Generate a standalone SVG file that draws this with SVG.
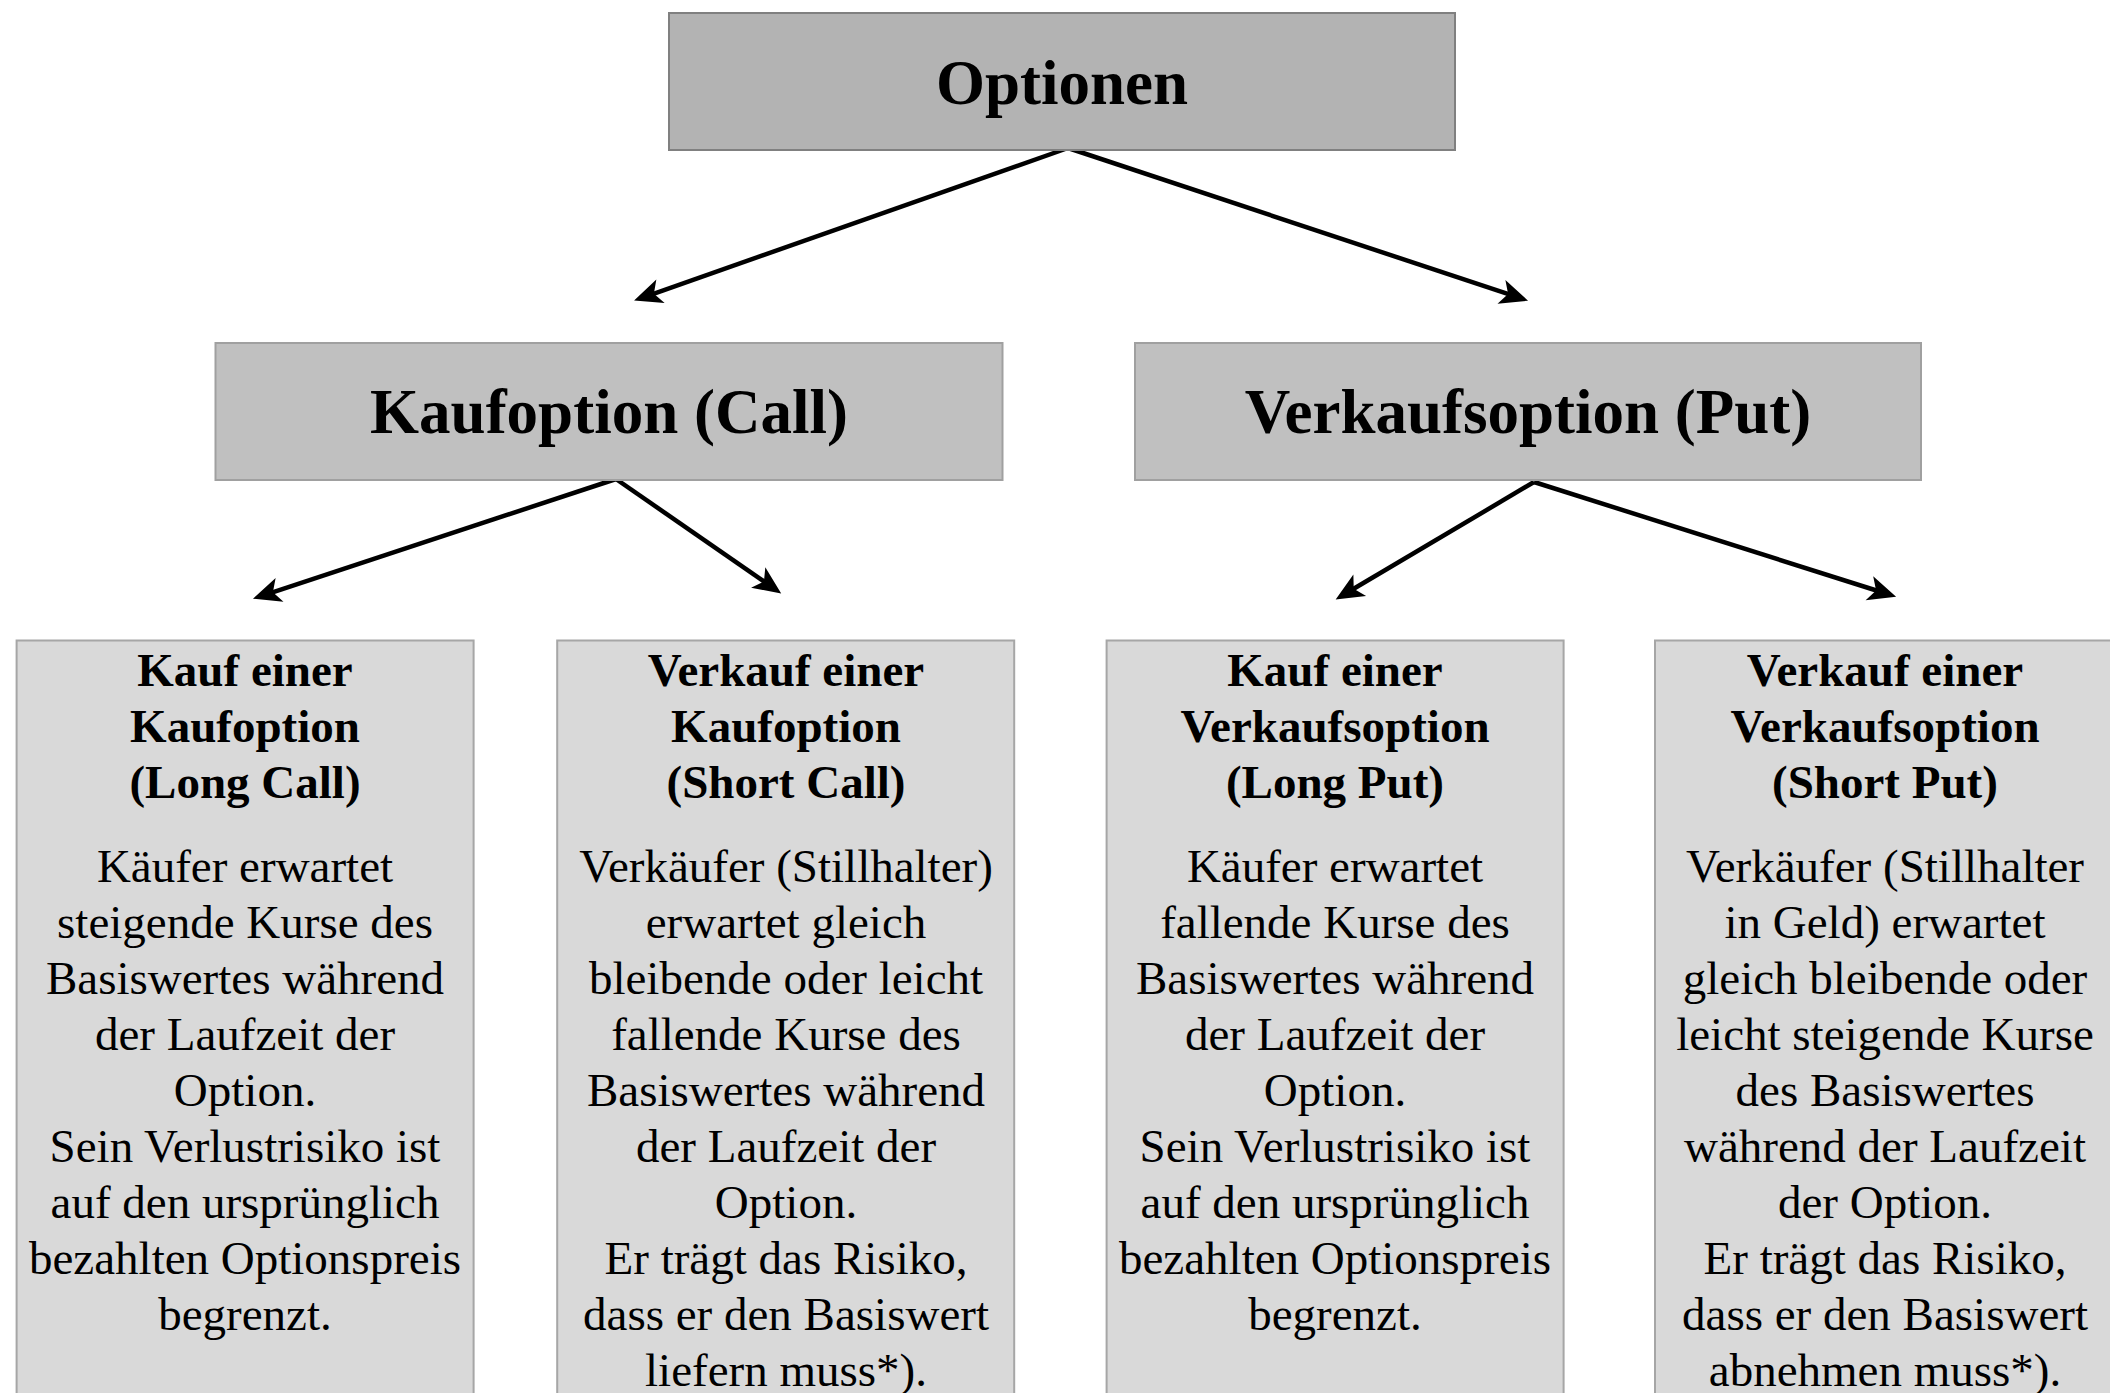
<svg xmlns="http://www.w3.org/2000/svg" width="2110" height="1393" viewBox="0 0 2110 1393">
<style>
.t{font-family:"Liberation Serif","Times New Roman",serif;fill:#000;text-anchor:middle}
.h1{font-size:63px;font-weight:bold}
.h3{font-size:47px;font-weight:bold}
.b{font-size:47px}
.top{fill:#b3b3b3;stroke:#808080;stroke-width:2}
.mid{fill:#c0c0c0;stroke:#a0a0a0;stroke-width:2}
.bot{fill:#d9d9d9;stroke:#a6a6a6;stroke-width:2}
.c{stroke:#000;stroke-width:4.5;fill:none;marker-end:url(#ah)}
</style>
<defs>
<marker id="ah" markerUnits="userSpaceOnUse" markerWidth="32" markerHeight="28" viewBox="0 -14 32 28" refX="10" refY="0" orient="auto">
<path d="M29,0 L1,-12.5 L8,0 L1,12.5 Z" fill="#000"/>
</marker>
</defs>
<rect width="2110" height="1393" fill="#fff"/>
<g id="connectors">
<line class="c" x1="1068" y1="148" x2="652" y2="294.3"/>
<line class="c" x1="1068" y1="148" x2="1510" y2="294.7"/>
<line class="c" x1="616" y1="479" x2="271" y2="592.8"/>
<line class="c" x1="616" y1="479" x2="765.6" y2="582.6"/>
<line class="c" x1="1534" y1="482" x2="1352" y2="589.8"/>
<line class="c" x1="1534" y1="482" x2="1878" y2="591"/>
</g>
<g id="optionen">
<rect class="top" x="669" y="13" width="786" height="137"/>
<text class="t h1" x="1062" y="104">Optionen</text>
</g>
<g id="kaufoption">
<rect class="mid" x="215.5" y="343" width="787" height="137"/>
<text class="t h1" x="609" y="433">Kaufoption (Call)</text>
</g>
<g id="verkaufsoption">
<rect class="mid" x="1135" y="343" width="786" height="137"/>
<text class="t h1" x="1528" y="433">Verkaufsoption (Put)</text>
</g>
<g id="long-call">
<rect class="bot" x="16.6" y="640.5" width="457" height="800"/>
<text class="t h3" x="245"><tspan x="245" y="686">Kauf einer</tspan><tspan x="245" y="742">Kaufoption</tspan><tspan x="245" y="798">(Long Call)</tspan></text>
<text class="t b" x="245"><tspan x="245" y="882">Käufer erwartet</tspan><tspan x="245" y="938">steigende Kurse des</tspan><tspan x="245" y="994">Basiswertes während</tspan><tspan x="245" y="1050">der Laufzeit der</tspan><tspan x="245" y="1106">Option.</tspan><tspan x="245" y="1162">Sein Verlustrisiko ist</tspan><tspan x="245" y="1218">auf den ursprünglich</tspan><tspan x="245" y="1274">bezahlten Optionspreis</tspan><tspan x="245" y="1330">begrenzt.</tspan></text>
</g>
<g id="short-call">
<rect class="bot" x="557.2" y="640.5" width="457" height="800"/>
<text class="t h3" x="786"><tspan x="786" y="686">Verkauf einer</tspan><tspan x="786" y="742">Kaufoption</tspan><tspan x="786" y="798">(Short Call)</tspan></text>
<text class="t b" x="786"><tspan x="786" y="882">Verkäufer (Stillhalter)</tspan><tspan x="786" y="938">erwartet gleich</tspan><tspan x="786" y="994">bleibende oder leicht</tspan><tspan x="786" y="1050">fallende Kurse des</tspan><tspan x="786" y="1106">Basiswertes während</tspan><tspan x="786" y="1162">der Laufzeit der</tspan><tspan x="786" y="1218">Option.</tspan><tspan x="786" y="1274">Er trägt das Risiko,</tspan><tspan x="786" y="1330">dass er den Basiswert</tspan><tspan x="786" y="1386">liefern muss*).</tspan></text>
</g>
<g id="long-put">
<rect class="bot" x="1106.6" y="640.5" width="457" height="800"/>
<text class="t h3" x="1335"><tspan x="1335" y="686">Kauf einer</tspan><tspan x="1335" y="742">Verkaufsoption</tspan><tspan x="1335" y="798">(Long Put)</tspan></text>
<text class="t b" x="1335"><tspan x="1335" y="882">Käufer erwartet</tspan><tspan x="1335" y="938">fallende Kurse des</tspan><tspan x="1335" y="994">Basiswertes während</tspan><tspan x="1335" y="1050">der Laufzeit der</tspan><tspan x="1335" y="1106">Option.</tspan><tspan x="1335" y="1162">Sein Verlustrisiko ist</tspan><tspan x="1335" y="1218">auf den ursprünglich</tspan><tspan x="1335" y="1274">bezahlten Optionspreis</tspan><tspan x="1335" y="1330">begrenzt.</tspan></text>
</g>
<g id="short-put">
<rect class="bot" x="1655" y="640.5" width="457" height="800"/>
<text class="t h3" x="1885"><tspan x="1885" y="686">Verkauf einer</tspan><tspan x="1885" y="742">Verkaufsoption</tspan><tspan x="1885" y="798">(Short Put)</tspan></text>
<text class="t b" x="1885"><tspan x="1885" y="882">Verkäufer (Stillhalter</tspan><tspan x="1885" y="938">in Geld) erwartet</tspan><tspan x="1885" y="994">gleich bleibende oder</tspan><tspan x="1885" y="1050">leicht steigende Kurse</tspan><tspan x="1885" y="1106">des Basiswertes</tspan><tspan x="1885" y="1162">während der Laufzeit</tspan><tspan x="1885" y="1218">der Option.</tspan><tspan x="1885" y="1274">Er trägt das Risiko,</tspan><tspan x="1885" y="1330">dass er den Basiswert</tspan><tspan x="1885" y="1386">abnehmen muss*).</tspan></text>
</g>
</svg>
